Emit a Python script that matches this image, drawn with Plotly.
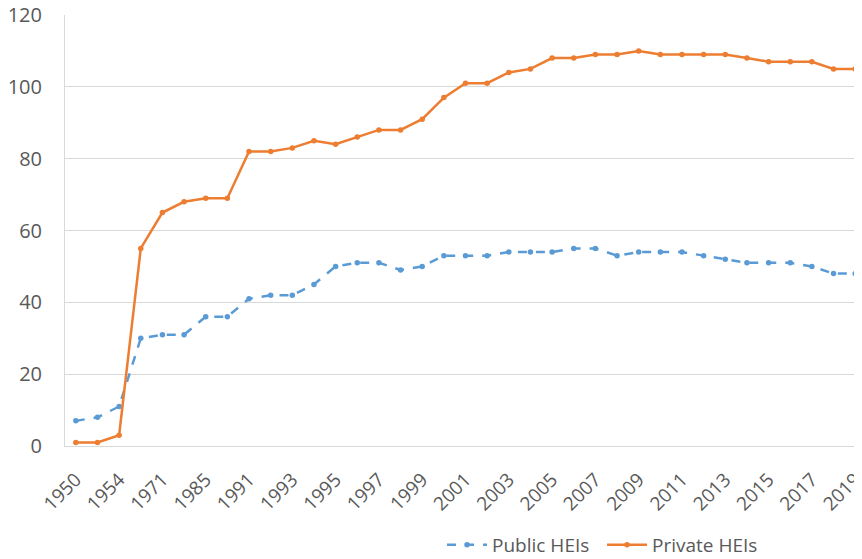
import plotly.graph_objects as go

years = ["1950", "1952", "1954", "1965", "1971", "1978", "1985", "1988",
         "1991", "1992", "1993", "1994", "1995", "1996", "1997", "1998", "1999",
         "2000", "2001", "2002", "2003", "2004", "2005", "2006", "2007", "2008",
         "2009", "2010", "2011", "2012", "2013", "2014", "2015", "2016", "2017",
         "2018", "2019"]
public_heis = [7, 8, 11, 30, 31, 31, 36, 36, 41, 42, 42, 45, 50, 51, 51, 49, 50,
               53, 53, 53, 54, 54, 54, 55, 55, 53, 54, 54, 54, 53, 52, 51, 51, 51,
               50, 48, 48]
private_heis = [1, 1, 3, 55, 65, 68, 69, 69, 82, 82, 83, 85, 84, 86, 88, 88, 91,
                97, 101, 101, 104, 105, 108, 108, 109, 109, 110, 109, 109, 109, 109,
                108, 107, 107, 107, 105, 105]
shown_ticks = years[::2]

fig = go.Figure()
fig.add_trace(go.Scatter(
    x=years, y=public_heis, name="Public HEIs", mode="lines+markers",
    line=dict(color="#5B9BD5", width=2.5, dash="dash"),
    marker=dict(color="#5B9BD5", size=5.5), cliponaxis=False))
fig.add_trace(go.Scatter(
    x=years, y=private_heis, name="Private HEIs", mode="lines+markers",
    line=dict(color="#ED7D31", width=2.5),
    marker=dict(color="#ED7D31", size=5.5), cliponaxis=False))

fig.update_layout(
    width=862, height=559,
    margin=dict(l=57, r=4, t=7, b=120),
    plot_bgcolor="white", paper_bgcolor="white",
    font=dict(family="Open Sans, Calibri, sans-serif", color="#595959"),
    showlegend=True,
    legend=dict(orientation="h", x=0.4707, xanchor="left", y=-0.2269, yanchor="middle",
                font=dict(size=19, color="#595959"), traceorder="normal",
                itemwidth=40, entrywidth=105),
    xaxis=dict(type="category", categoryorder="array", categoryarray=years,
               tickvals=shown_ticks, ticktext=shown_ticks, tickangle=-45,
               tickfont=dict(size=19, color="#595959"), automargin=False,
               ticklabelstandoff=14, ticklabeloverflow="allow",
               range=[-0.5, 36.5], showgrid=False, showline=True,
               linecolor="#D9D9D9", linewidth=1, ticks=""),
    yaxis=dict(range=[0, 120], dtick=20, tickfont=dict(size=20, color="#595959"),
               showgrid=True, gridcolor="#D9D9D9", gridwidth=1, automargin=False,
               showline=True, linecolor="#D9D9D9", zeroline=False,
               ticklabelstandoff=18, ticklabeloverflow="allow"),
)

fig.write_html("out.html")
